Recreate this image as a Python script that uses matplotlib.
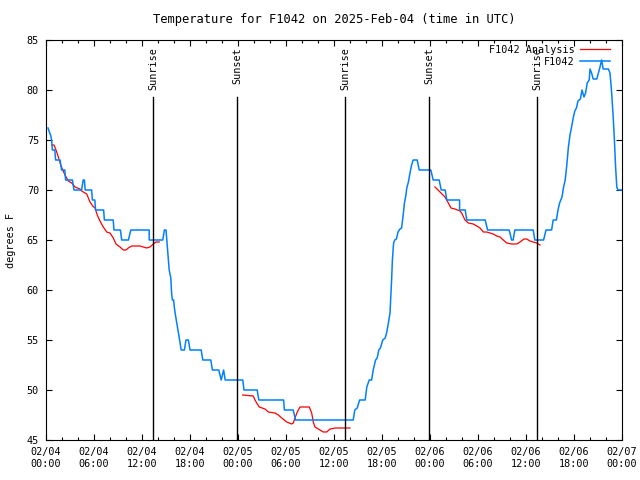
import numpy as np
import pandas as pd
import matplotlib
matplotlib.use('Agg')
import matplotlib.pyplot as plt
import matplotlib.dates as mdates

start = pd.Timestamp('2025-02-04 00:00')

# observed temperature (hours since start, degF)
obs_hours = [0.25, 0.6, 0.7, 0.8, 1.1, 1.2, 1.75, 1.85, 1.95, 2.35, 2.45, 3.3, 3.5, 4.45, 4.65, 4.8, 4.9,
             5.7, 5.8, 6.1, 6.2, 7.2, 7.3, 8.4, 8.5, 9.3, 9.46, 10.3, 10.6, 12.9, 12.9, 14.6, 14.8, 15.0,
             15.1, 15.2, 15.3, 15.4, 15.6, 15.7, 15.8, 15.95, 16.05, 16.2, 16.35, 16.45, 16.6, 16.9,
             17.3, 17.5, 17.8, 18.0, 19.4, 19.6, 20.6, 20.8, 21.6, 21.75, 21.9, 22.2, 22.4, 24.6, 24.75,
             26.4, 26.6, 29.7, 29.8, 30.9, 31.2, 38.4, 38.6, 38.9, 39.2, 39.9, 40.1, 40.4, 40.7, 40.9,
             41.2, 41.4, 41.6, 41.8, 42.1, 42.4, 42.6, 42.8, 43.0, 43.1, 43.2, 43.3, 43.45, 43.6, 43.8,
             44.0, 44.25, 44.45, 44.65, 44.8, 44.95, 45.1, 45.3, 45.5, 45.7, 45.9, 46.4, 46.65, 48.1,
             48.4, 49.15, 49.4, 49.9, 50.1, 51.7, 51.7, 52.4, 52.6, 54.9, 55.2, 57.9, 58.2, 58.4, 58.6,
             60.9, 61.1, 62.2, 62.5, 63.2, 63.4, 63.8, 64.0, 64.2, 64.5, 64.7, 64.9, 65.1, 65.3, 65.5,
             65.7, 65.9, 66.1, 66.3, 66.5, 66.8, 67.0, 67.25, 67.45, 67.65, 67.9, 68.0, 68.2, 68.4,
             68.85, 69.05, 69.25, 69.45, 69.65, 70.3, 70.5, 70.7, 70.9, 71.05, 71.2, 71.35, 71.5, 72.0]
obs_temp = [76.2, 75.4, 75, 74, 74, 73, 73, 72.5, 72, 72, 71, 71, 70, 70, 71, 71, 70,
            70, 69, 69, 68, 68, 67, 67, 66, 66, 65, 65, 66, 66, 65, 65, 66, 66,
            65, 64, 63, 62, 61.2, 59.7, 59, 59, 58.2, 57.4, 56.7, 56.2, 55.5, 54,
            54, 55, 55, 54, 54, 53, 53, 52, 52, 51.5, 51, 52, 51, 51, 50,
            50, 49, 49, 48, 48, 47, 47, 48, 48.2, 49, 49, 50.3, 51, 51, 52,
            53, 53.2, 54, 54.2, 55, 55.2, 55.8, 56.7, 57.7, 59.3, 61, 63, 64.7, 65, 65.1,
            65.8, 66.1, 66.2, 67.5, 68.7, 69.3, 70.2, 70.8, 71.7, 72.5, 73, 73, 72, 72,
            71, 71, 70, 70, 69, 69, 68, 68, 67, 67, 66, 66, 65, 65, 66,
            66, 65, 65, 66, 66, 67, 67, 68, 68.7, 69.3, 70.3, 71, 72.5, 74.3, 75.5,
            76.3, 77.2, 77.9, 78.2, 78.9, 79.1, 80, 79.3, 79.7, 80.7, 81, 82.1, 81.7, 81.1,
            81.1, 81.7, 82.3, 83, 82.1, 82.1, 81.7, 79.8, 77.3, 75, 72.3, 70.3, 70, 70]

# analysis temperature, three pieces
ana_hours_1 = [0.71, 1.0, 1.25, 1.54, 1.84, 2.09, 2.375, 2.79, 3.21, 3.625, 4.25, 4.46, 4.875, 5.09, 5.5,
               5.84, 6.125, 6.41, 6.75, 7.16, 7.59, 8.0, 8.41, 8.75, 9.25, 9.66, 10.0, 10.29, 10.71,
               11.75, 12.16, 12.59, 13.0, 13.41, 13.75, 14.16]
ana_temp_1 = [74.5, 74.5, 74, 73.3, 72.5, 72, 71.5, 70.9, 70.7, 70.3, 70.1, 69.9, 69.7, 69.6, 68.8,
              68.4, 68.2, 67.5, 66.9, 66.3, 65.8, 65.7, 65.2, 64.6, 64.3, 64, 64, 64.2, 64.4,
              64.4, 64.3, 64.2, 64.3, 64.6, 64.8, 64.8]
ana_hours_2 = [24.59, 25.91, 26.125, 26.34, 26.66, 27.375, 27.79, 28.625, 29.04, 29.46, 30.09, 30.71,
               30.91, 31.125, 31.41, 31.75, 32.91, 33.21, 33.41, 33.625, 34.04, 34.66, 35.09, 35.5,
               36.125, 38.0]
ana_temp_2 = [49.5, 49.4, 49, 48.7, 48.3, 48.1, 47.8, 47.7, 47.5, 47.2, 46.8, 46.6,
              46.7, 47.2, 47.8, 48.3, 48.3, 47.7, 46.8, 46.3, 46.1, 45.8, 45.8, 46.1,
              46.2, 46.2]
ana_hours_3 = [48.625, 49.25, 49.875, 50.29, 50.625, 51.125, 51.75, 51.96, 52.375, 52.79, 53.41, 53.84,
               54.25, 54.66, 55.09, 55.5, 55.91, 56.34, 56.75, 57.16, 57.59, 58.21, 58.84, 59.25,
               59.75, 60.09, 60.5, 60.91, 61.34, 61.54, 61.75]
ana_temp_3 = [70.3, 69.8, 69.3, 68.7, 68.2, 68.1, 67.9, 67.7, 67, 66.7, 66.6, 66.4,
              66.2, 65.8, 65.8, 65.7, 65.6, 65.4, 65.3, 65, 64.7, 64.6, 64.6, 64.8,
              65.1, 65.1, 64.9, 64.8, 64.7, 64.6, 64.5]

events = ['Sunrise', 'Sunset', 'Sunrise', 'Sunset', 'Sunrise']
event_times = ['2025-02-04 13:22', '2025-02-04 23:53', '2025-02-05 13:22',
               '2025-02-05 23:53', '2025-02-06 13:22']


def to_time(hours):
    return start + pd.to_timedelta(np.array(hours), unit='h')


plt.rcParams['font.family'] = 'DejaVu Sans Mono'
plt.rcParams['font.size'] = 7.3

fig = plt.figure(figsize=(6.4, 4.8), dpi=100)
ax = fig.add_axes([46 / 640, 40 / 480, 576 / 640, 400 / 480])

# analysis first segment carries the legend entry
ax.plot(to_time(ana_hours_1), ana_temp_1, color='#ff0000', lw=0.9, label='F1042 Analysis')
ax.plot(to_time(ana_hours_2), ana_temp_2, color='#ff0000', lw=0.9)
ax.plot(to_time(ana_hours_3), ana_temp_3, color='#ff0000', lw=0.9)
ax.plot(to_time(obs_hours), obs_temp, color='#0080ff', lw=1.1, label='F1042')

for name, t in zip(events, event_times):
    tt = pd.Timestamp(t)
    ax.plot([tt, tt], [45, 79.3], color='black', lw=1.0)
    ax.text(tt, 84.3, name, rotation=90, ha='center', va='top')

ax.set_xlim(start, start + pd.Timedelta(hours=72))
ax.set_ylim(45, 85)
ax.set_yticks(np.arange(45, 86, 5))
ax.xaxis.set_major_locator(mdates.HourLocator(byhour=[0, 6, 12, 18]))
ax.xaxis.set_minor_locator(mdates.HourLocator(interval=2))
ax.xaxis.set_major_formatter(mdates.DateFormatter('%m/%d\n%H:%M'))
ax.tick_params(which='major', direction='in', length=4.5, width=0.8, top=True, right=True, pad=5)
ax.tick_params(which='minor', direction='in', length=2.2, width=0.8, top=True, right=True)
ax.yaxis.set_minor_locator(matplotlib.ticker.NullLocator())
for s in ax.spines.values():
    s.set_linewidth(0.8)

ax.set_title('Temperature for F1042 on 2025-Feb-04 (time in UTC)', pad=12)
ax.set_ylabel('degrees F', labelpad=8)

ax.legend(loc='upper right', bbox_to_anchor=(0.986, 0.998), frameon=False, markerfirst=False,
          handlelength=2.9, borderaxespad=0, labelspacing=0.2, handletextpad=0.6)

fig.savefig('out.png', dpi=100)
